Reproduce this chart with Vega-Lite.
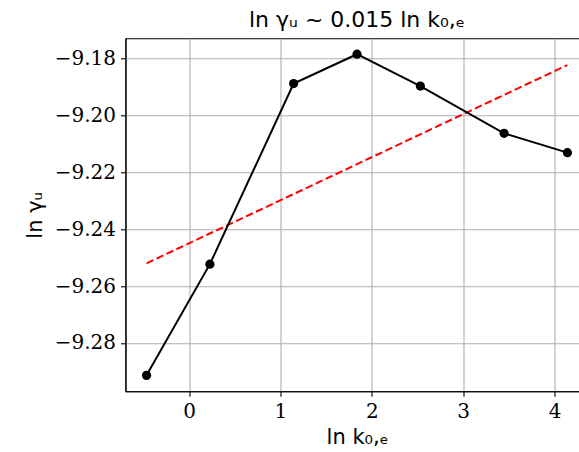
{
  "$schema": "https://vega.github.io/schema/vega-lite/v6.json",
  "width": 463,
  "height": 353,
  "autosize": {"type": "none"},
  "padding": {"left": 125.5, "top": 38.3, "right": 0, "bottom": 61},
  "background": "white",
  "title": {
    "text": "ln γᵤ ~ 0.015 ln k₀,ₑ",
    "font": "DejaVu Sans",
    "fontSize": 22,
    "fontWeight": "normal",
    "color": "black",
    "anchor": "middle",
    "offset": 6
  },
  "config": {
    "view": {"stroke": "black", "strokeWidth": 1.1},
    "axis": {
      "domainColor": "black",
      "domainWidth": 1.1,
      "tickColor": "black",
      "tickWidth": 1.1,
      "tickSize": 5,
      "gridColor": "#b0b0b0",
      "gridWidth": 1.1,
      "labelFont": "DejaVu Serif",
      "labelFontSize": 20,
      "labelColor": "black",
      "titleFont": "DejaVu Sans",
      "titleFontSize": 21,
      "titleFontWeight": "normal",
      "titleColor": "black"
    }
  },
  "datasets": {
    "measured": [
      {"ln_k": -0.4647, "ln_gamma": -9.2914},
      {"ln_k": 0.2284, "ln_gamma": -9.2523},
      {"ln_k": 1.1447, "ln_gamma": -9.1888},
      {"ln_k": 1.8379, "ln_gamma": -9.1785},
      {"ln_k": 2.5310, "ln_gamma": -9.1897},
      {"ln_k": 3.4473, "ln_gamma": -9.2063},
      {"ln_k": 4.1405, "ln_gamma": -9.2131}
    ],
    "fit": [
      {"ln_k": -0.4647, "ln_gamma": -9.2520},
      {"ln_k": 4.1405, "ln_gamma": -9.1823}
    ]
  },
  "layer": [
    {
      "data": {"name": "fit"},
      "mark": {"type": "line", "color": "red", "strokeWidth": 2, "strokeDash": [7.5, 3.5]},
      "encoding": {
        "x": {
          "field": "ln_k", "type": "quantitative",
          "scale": {"domain": [-0.695, 4.371], "nice": false, "zero": false},
          "axis": {"values": [0, 1, 2, 3, 4], "format": "d", "title": "ln k₀,ₑ", "titlePadding": 5, "labelPadding": 5}
        },
        "y": {
          "field": "ln_gamma", "type": "quantitative",
          "scale": {"domain": [-9.297, -9.1729], "nice": false, "zero": false},
          "axis": {"values": [-9.28, -9.26, -9.24, -9.22, -9.2, -9.18], "format": ".2f", "title": "ln γᵤ", "titlePadding": 9, "labelPadding": 5}
        }
      }
    },
    {
      "data": {"name": "measured"},
      "mark": {"type": "line", "color": "black", "strokeWidth": 2, "point": {"filled": true, "color": "black", "size": 85, "opacity": 1}},
      "encoding": {
        "x": {"field": "ln_k", "type": "quantitative"},
        "y": {"field": "ln_gamma", "type": "quantitative"}
      }
    }
  ]
}
